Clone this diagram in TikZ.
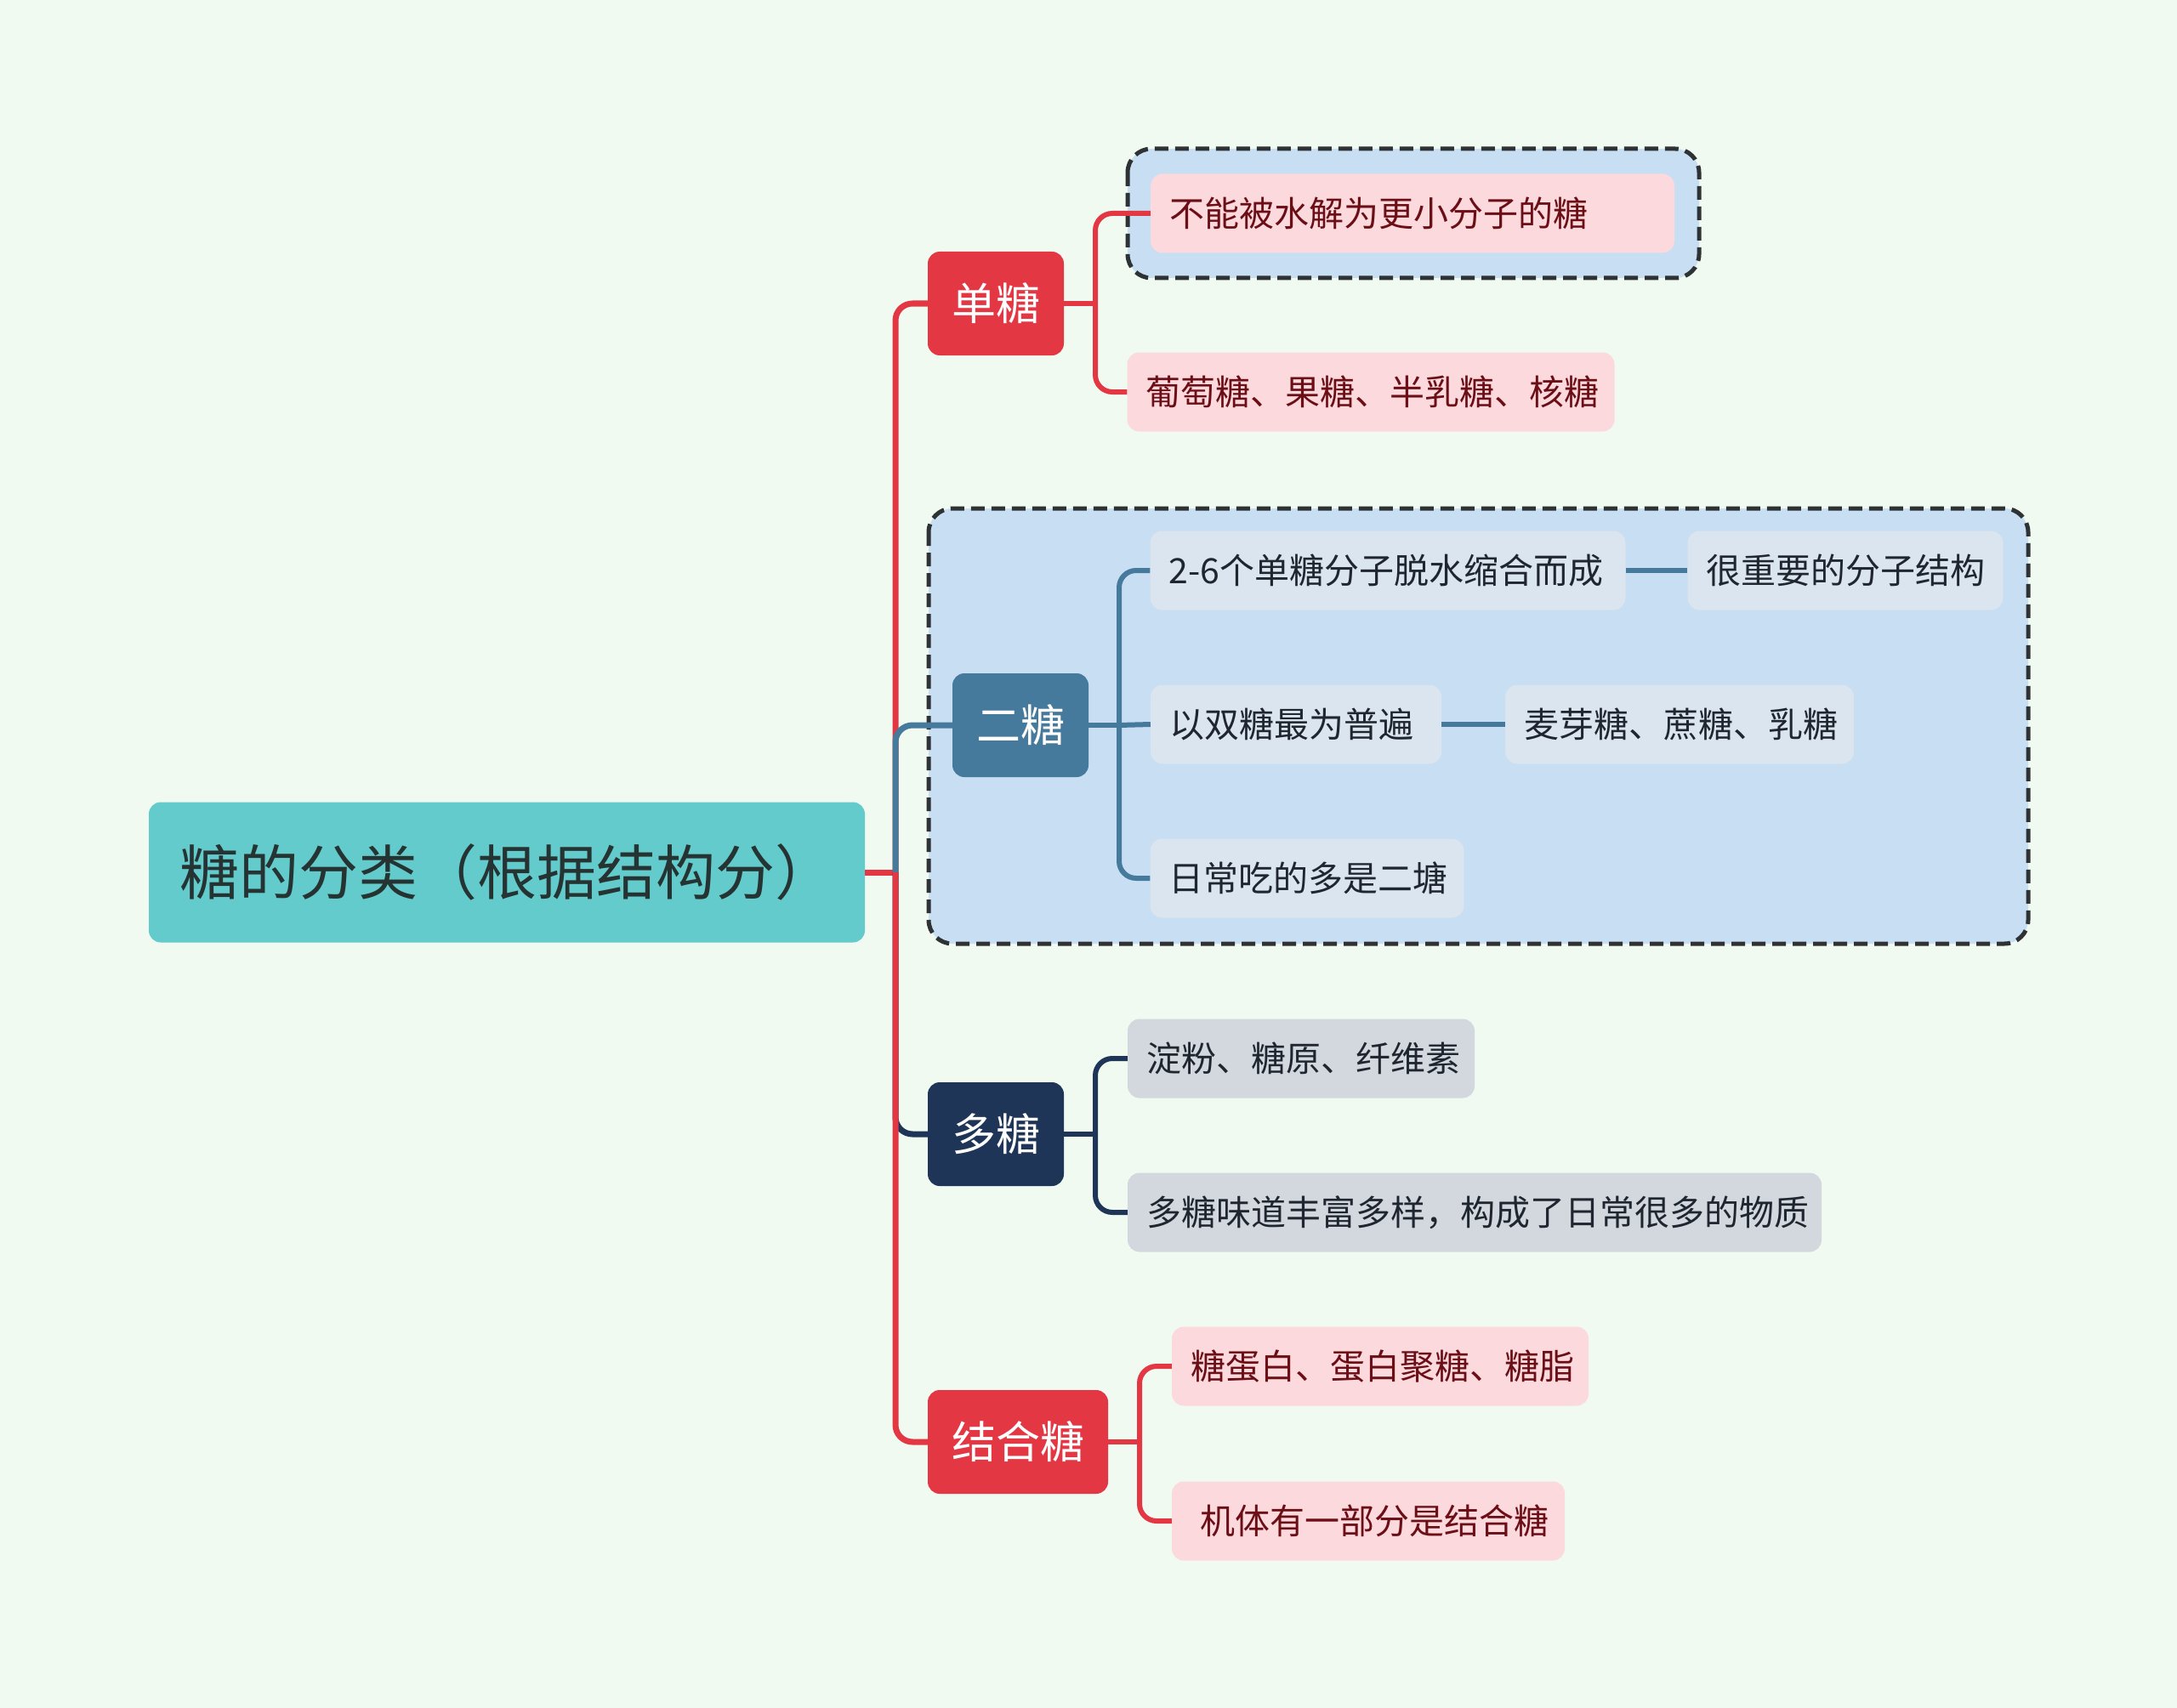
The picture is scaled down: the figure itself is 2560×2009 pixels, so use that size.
\documentclass[tikz,border=0pt]{standalone}
\usepackage{fontspec}
\setmainfont{Noto Sans CJK SC}
\usepackage{tikz}

\definecolor{bgcol}{HTML}{F0FAF0}
\definecolor{rootfill}{HTML}{63CBCB}
\definecolor{roottext}{HTML}{263333}
\definecolor{sugred}{HTML}{E33744}
\definecolor{pinkfill}{HTML}{FCD9DD}
\definecolor{pinktext}{HTML}{6B0E16}
\definecolor{sugblue}{HTML}{467A9C}
\definecolor{framefill}{HTML}{C8DEF2}
\definecolor{frameline}{HTML}{2F3235}
\definecolor{bluefill}{HTML}{DAE5EF}
\definecolor{sugnavy}{HTML}{1E3557}
\definecolor{grayfill}{HTML}{D3D8DF}
\definecolor{leaftext}{HTML}{1F2630}

\tikzset{
  root/.style={rectangle, rounded corners=14pt, inner sep=0pt, fill=rootfill, text=roottext,
    font=\fontsize{70}{84}\selectfont, minimum width=842pt, minimum height=165pt},
  topic/.style={rectangle, rounded corners=14pt, inner sep=0pt, text=white,
    font=\fontsize{52}{62}\selectfont, minimum width=160pt, minimum height=122pt},
  leaf/.style={rectangle, rounded corners=14pt, inner sep=0pt, align=left,
    font=\fontsize{41}{48}\selectfont, minimum height=93pt},
  redleaf/.style={leaf, fill=pinkfill, text=pinktext},
  blueleaf/.style={leaf, fill=bluefill, text=leaftext},
  grayleaf/.style={leaf, fill=grayfill, text=leaftext},
  grp/.style={draw=frameline, fill=framefill, line width=5pt, dash pattern=on 16pt off 8pt,
    rounded corners=28pt},
  link/.style={line width=6pt, rounded corners=20pt},
}

\begin{document}
\begin{tikzpicture}[x=1pt,y=-1pt]
\useasboundingbox[fill=bgcol] (0,0) rectangle (2560,2009);
% dashed frames
\draw[grp] (1326,175) rectangle (1998,327);
\draw[grp] (1092,598) rectangle (2385,1110);
% root and topics
\node[root] (sugar) at (596,1026) {糖的分类（根据结构分）};
\node[topic, fill=sugred] (mono) at (1171,357) {单糖};
\node[topic, fill=sugblue] (di) at (1200,853) {二糖};
\node[topic, fill=sugnavy] (poly) at (1171,1334) {多糖};
\node[topic, fill=sugred, minimum width=212pt] (conj) at (1197,1696) {结合糖};
% leaves
\node[redleaf, minimum width=616pt, text width=572pt] (mono1) at (1661,251) {不能被水解为更小分子的糖};
\node[redleaf, minimum width=573pt, text width=529pt] (mono2) at (1612,461) {葡萄糖、果糖、半乳糖、核糖};
\node[blueleaf, minimum width=559pt, text width=515pt] (di1) at (1632,671) {2-6个单糖分子脱水缩合而成};
\node[blueleaf, minimum width=371pt, text width=327pt] (di1a) at (2170,671) {很重要的分子结构};
\node[blueleaf, minimum width=342pt, text width=298pt] (di2) at (1524,852) {以双糖最为普遍};
\node[blueleaf, minimum width=410pt, text width=366pt] (di2a) at (1975,852) {麦芽糖、蔗糖、乳糖};
\node[blueleaf, minimum width=369pt, text width=325pt] (di3) at (1537,1033) {日常吃的多是二塘};
\node[grayleaf, minimum width=408pt, text width=364pt] (poly1) at (1530,1245) {淀粉、糖原、纤维素};
\node[grayleaf, minimum width=816pt, text width=772pt] (poly2) at (1734,1426) {多糖味道丰富多样，构成了日常很多的物质};
\node[redleaf, minimum width=490pt, text width=446pt] (conj1) at (1623,1607) {糖蛋白、蛋白聚糖、糖脂};
\node[redleaf, minimum width=462pt, text width=418pt] (conj2) at (1609,1789) {\hspace*{11pt}机体有一部分是结合糖};
% hubs
\coordinate (hub) at (1053,1026);
\coordinate (monohub) at (1288,357);
\coordinate (dihub) at (1316,853);
\coordinate (polyhub) at (1288,1334);
\coordinate (conjhub) at (1340,1696);
% connectors
\draw[link, line width=7pt, sugred] (sugar.east) -- (hub);
\draw[link, line width=7pt, sugred] (hub) |- (mono.west);
\draw[link, line width=7pt, sugblue] (hub) |- (di.west);
\draw[link, line width=7pt, sugnavy] (hub) |- (poly.west);
\draw[link, line width=7pt, sugred] (hub) |- (conj.west);
\draw[link, sugred] (mono.east) -- (monohub);
\draw[link, sugred] (monohub) |- (mono1.west);
\draw[link, sugred] (monohub) |- (mono2.west);
\draw[link, sugblue] (di.east) -- (dihub);
\draw[link, sugblue] (dihub) |- (di1.west);
\draw[link, sugblue] (dihub) -- (di2.west);
\draw[link, sugblue] (dihub) |- (di3.west);
\draw[link, sugblue] (di1.east) -- (di1a.west);
\draw[link, sugblue] (di2.east) -- (di2a.west);
\draw[link, sugnavy] (poly.east) -- (polyhub);
\draw[link, sugnavy] (polyhub) |- (poly1.west);
\draw[link, sugnavy] (polyhub) |- (poly2.west);
\draw[link, sugred] (conj.east) -- (conjhub);
\draw[link, sugred] (conjhub) |- (conj1.west);
\draw[link, sugred] (conjhub) |- (conj2.west);
\end{tikzpicture}
\end{document}
